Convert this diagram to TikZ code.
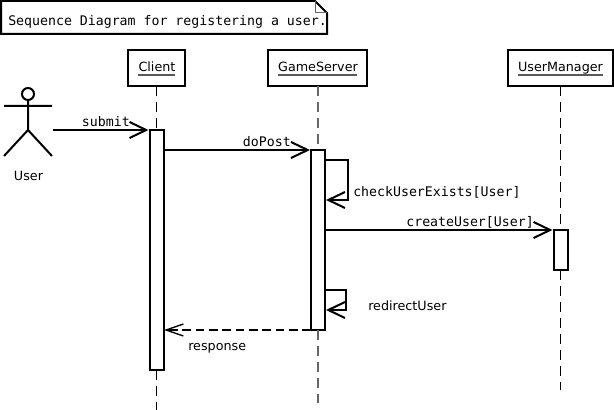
\documentclass[tikz,border=0pt]{standalone}
\usepackage{fontspec}
\setmainfont{DejaVu Sans}
\newfontfamily\monof{DejaVu Sans Mono}
\usetikzlibrary{arrows.meta}
\tikzset{
 x=0.75pt,y=-0.75pt,
 ln/.style={line width=1.5pt,black,line join=miter},
 objbox/.style={draw=black,line width=1.5pt,fill=white,anchor=north west,inner sep=0pt,outer sep=0pt},
 actbox/.style={objbox,minimum width=10.5pt},
 lifeline/.style={line width=0.8pt,dash pattern=on 7.5pt off 4.5pt,black!60},
 msg/.style={ln,-{Straight Barb[length=12.5pt,width=12pt,line width=1.5pt]}},
 ret/.style={line width=1.5pt,dash pattern=on 6.5pt off 3.5pt,-{Straight Barb[length=13pt,width=9pt,line width=1pt]}},
 mono/.style={font=\monof\fontsize{9.92}{11}\selectfont,inner sep=0pt},
 sans/.style={font=\fontsize{9.55}{11}\selectfont,inner sep=0pt},
 uline/.style={line width=1pt,black!65},
}
\begin{document}
\begin{tikzpicture}
\useasboundingbox (0,0) rectangle (614,410);
% note
\draw[ln] (1,1) -- (315,1) -- (327,13) -- (327,34) -- (1,34) -- cycle;
\draw[line width=0.75pt,black!60] (315,1) -- (315,13) -- (327,13);
\node[mono,anchor=base west] (note) at (8,25.5) {Sequence Diagram for registering a user.};
% objects
\node[objbox,minimum width=42.75pt,minimum height=27pt] (client) at (128,50) {};
\node[objbox,minimum width=74.25pt,minimum height=27pt] (server) at (268,50) {};
\node[objbox,minimum width=78.75pt,minimum height=27pt] (manager) at (508,50) {};
\node[sans,anchor=base] (clientt) at (157,72) {Client};
\node[sans,anchor=base] (servert) at (318,72) {GameServer};
\node[sans,anchor=base] (managert) at (560.5,72) {UserManager};
\draw[uline] (138,75) -- (175,75);
\draw[uline] (278,75) -- (357,75);
\draw[uline] (518,75) -- (603,75);
% activations
\node[actbox,minimum height=180pt] (ac) at (149.5,130) {};
\node[actbox,minimum height=135pt] (as) at (311,150) {};
\node[actbox,minimum height=30pt] (am) at (553.5,230) {};
% lifelines
\coordinate (cend) at (156.5,410);
\coordinate (send) at (318,403);
\coordinate (mend) at (560.5,390);
\draw[lifeline,black] (client.south -| ac.north) -- (ac.north);
\draw[lifeline,black] (ac.south) -- (cend);
\draw[lifeline] (server.south -| as.north) -- (as.north);
\draw[lifeline] (as.south) -- (send);
\draw[lifeline,black] (manager.south -| am.north) -- (am.north);
\draw[lifeline,black] (am.south) -- (mend);
% actor
\coordinate (hand) at (53,130);
\draw[ln] (28,94) circle[radius=6];
\draw[ln] (28,100) -- (28,130) (4,106) -- (52,106) (4,156) -- (28,130) -- (52,156);
\node[sans,anchor=base] (user) at (28.5,180) {User};
% message anchor points
\coordinate (subTip) at (148.5,130);
\coordinate (postFrom) at (163.5,150);
\coordinate (postTip) at (310,150);
\coordinate (chkFrom) at (325,160);
\coordinate (chkA) at (348,160);
\coordinate (chkB) at (348,200);
\coordinate (chkTip) at (326,200);
\coordinate (crFrom) at (325,230);
\coordinate (crTip) at (552.5,230);
\coordinate (rdFrom) at (325,290);
\coordinate (rdA) at (346,290);
\coordinate (rdB) at (346,310);
\coordinate (rdTip) at (326,310);
\coordinate (resFrom) at (311,330);
\coordinate (resTip) at (164,330);
% messages
\draw[msg] (hand) -- (subTip);
\draw[msg] (postFrom) -- (postTip);
\draw[msg] (chkFrom) -- (chkA) -- (chkB) -- (chkTip);
\draw[msg] (crFrom) -- (crTip);
\draw[msg] (rdFrom) -- (rdA) -- (rdB) -- (rdTip);
\draw[ret] (resFrom) -- (resTip);
% labels
\node[mono,anchor=base east] (lsubmit) at (130,126.5) {submit};
\node[mono,anchor=base east] (lpost) at (291,146.5) {doPost};
\node[mono,anchor=base west] (lchk) at (353,196) {checkUserExists[User]};
\node[mono,anchor=base east] (lcr) at (534,226) {createUser[User]};
\node[sans,anchor=base west] (lrd) at (368,310) {redirectUser};
\node[sans,anchor=base west] (lres) at (188,350) {response};
\end{tikzpicture}
\end{document}
